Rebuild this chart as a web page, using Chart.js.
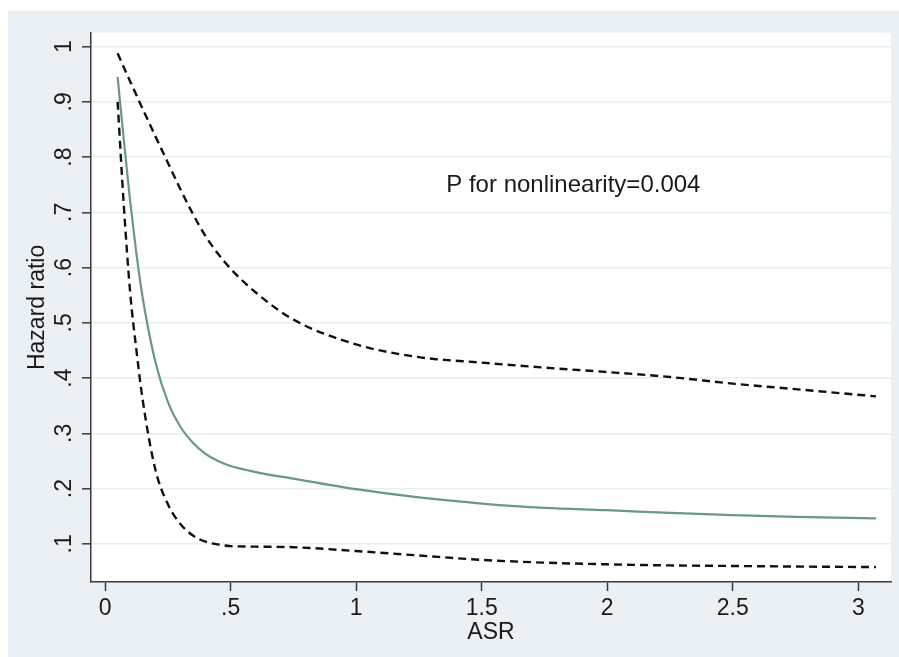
<!DOCTYPE html>
<html>
<head>
<meta charset="utf-8">
<script src="https://cdn.jsdelivr.net/npm/chart.js"></script>
<style>
  body { margin: 0; background: #ffffff; }
  #wrap {
    position: absolute;
    left: 8px;
    top: 11px;
    width: 891px;
    height: 646px;
    background: #eaf0f3;
  }
</style>
</head>
<body>
<div id="wrap"><canvas id="hrChart" width="891" height="646"></canvas></div>
<script>
// ASR values and hazard ratio curves
const asrValues = [0.05, 0.075, 0.1, 0.125, 0.15, 0.2, 0.25, 0.3, 0.35, 0.4, 0.45, 0.5, 0.6, 0.75, 1.0, 1.25, 1.5, 1.75, 2.0, 2.25, 2.5, 2.75, 3.07];
const upperCI = [0.988, 0.962, 0.937, 0.912, 0.887, 0.838, 0.79, 0.742, 0.697, 0.657, 0.625, 0.598, 0.555, 0.506, 0.461, 0.438, 0.428, 0.419, 0.411, 0.402, 0.39, 0.38, 0.367];
const hazardRatio = [0.945, 0.83, 0.72, 0.625, 0.545, 0.43, 0.357, 0.312, 0.283, 0.263, 0.25, 0.241, 0.23, 0.218, 0.199, 0.184, 0.173, 0.165, 0.161, 0.156, 0.152, 0.149, 0.146];
const lowerCI = [0.9, 0.71, 0.555, 0.45, 0.36, 0.235, 0.172, 0.136, 0.115, 0.104, 0.099, 0.096, 0.095, 0.094, 0.087, 0.079, 0.071, 0.066, 0.063, 0.061, 0.06, 0.059, 0.058];

const xTicks = [0, 0.5, 1, 1.5, 2, 2.5, 3];
const yTicks = [0.1, 0.2, 0.3, 0.4, 0.5, 0.6, 0.7, 0.8, 0.9, 1];

const noteText = "P for nonlinearity=0.004";
const notePos = { x: 1.865, y: 0.749 };

const FONT = "'Liberation Sans', Arial, sans-serif";
const textColor = "#1a1a1a";
const axisColor = "#3a3a3a";

// strip the leading zero like Stata does: 0.5 -> .5
const stataLabel = (v) => {
  const s = String(Math.round(v * 10) / 10);
  return s.startsWith("0.") ? s.slice(1) : s;
};

const toPoints = (ys) => asrValues.map((x, i) => ({ x, y: ys[i] }));

const plotBackground = {
  id: "plotBackground",
  beforeDraw(chart) {
    const { ctx, chartArea } = chart;
    ctx.save();
    ctx.fillStyle = "#ffffff";
    ctx.fillRect(chartArea.left, chartArea.top, chartArea.right - chartArea.left, chartArea.bottom - chartArea.top);
    ctx.restore();
  },
};

const noteLabel = {
  id: "noteLabel",
  afterDatasetsDraw(chart) {
    const { ctx, scales } = chart;
    ctx.save();
    ctx.font = `24px ${FONT}`;
    ctx.fillStyle = textColor;
    ctx.textAlign = "center";
    ctx.textBaseline = "middle";
    ctx.fillText(noteText, scales.x.getPixelForValue(notePos.x), scales.y.getPixelForValue(notePos.y));
    ctx.restore();
  },
};

const dashedLine = (data) => ({
  data,
  borderColor: "#111111",
  borderWidth: 2.4,
  borderDash: [8, 5],
  pointRadius: 0,
  cubicInterpolationMode: "monotone",
  fill: false,
});

new Chart(document.getElementById("hrChart"), {
  type: "line",
  data: {
    datasets: [
      dashedLine(toPoints(upperCI)),
      {
        data: toPoints(hazardRatio),
        borderColor: "#6a9788",
        borderWidth: 2.2,
        pointRadius: 0,
        cubicInterpolationMode: "monotone",
        fill: false,
      },
      dashedLine(toPoints(lowerCI)),
    ],
  },
  options: {
    responsive: false,
    animation: false,
    layout: { padding: { top: 21, right: 8, left: 0, bottom: 0 } },
    plugins: {
      legend: { display: false },
      tooltip: { enabled: false },
    },
    scales: {
      x: {
        type: "linear",
        min: -0.056,
        max: 3.13,
        afterBuildTicks: (scale) => {
          scale.ticks = xTicks.map((value) => ({ value }));
        },
        afterFit: (scale) => {
          scale.height = 75;
        },
        ticks: {
          color: textColor,
          font: { family: FONT, size: 23 },
          padding: 4,
          maxRotation: 0,
          autoSkip: false,
          callback: (v) => stataLabel(v),
        },
        grid: {
          drawOnChartArea: false,
          drawTicks: true,
          tickLength: 9,
          tickColor: axisColor,
          tickWidth: 1.5,
        },
        border: { display: true, color: axisColor, width: 1.5 },
        title: {
          display: true,
          text: "ASR",
          color: textColor,
          font: { family: FONT, size: 23 },
          padding: { top: 0, bottom: 11 },
        },
      },
      y: {
        type: "linear",
        min: 0.031,
        max: 1.025,
        afterBuildTicks: (scale) => {
          scale.ticks = yTicks.map((value) => ({ value }));
        },
        afterFit: (scale) => {
          scale.width = 83;
        },
        ticks: {
          color: textColor,
          font: { family: FONT, size: 23 },
          padding: 8,
          minRotation: 90,
          maxRotation: 90,
          crossAlign: "center",
          autoSkip: false,
          callback: (v) => stataLabel(v),
        },
        grid: {
          color: "#e8eff1",
          lineWidth: 1.6,
          drawTicks: true,
          tickLength: 9,
          tickColor: axisColor,
          tickWidth: 1.5,
        },
        border: { display: true, color: axisColor, width: 1.5 },
        title: {
          display: true,
          text: "Hazard ratio",
          color: textColor,
          font: { family: FONT, size: 23 },
          padding: { top: 16, bottom: 0 },
        },
      },
    },
  },
  plugins: [plotBackground, noteLabel],
});
</script>
</body>
</html>
